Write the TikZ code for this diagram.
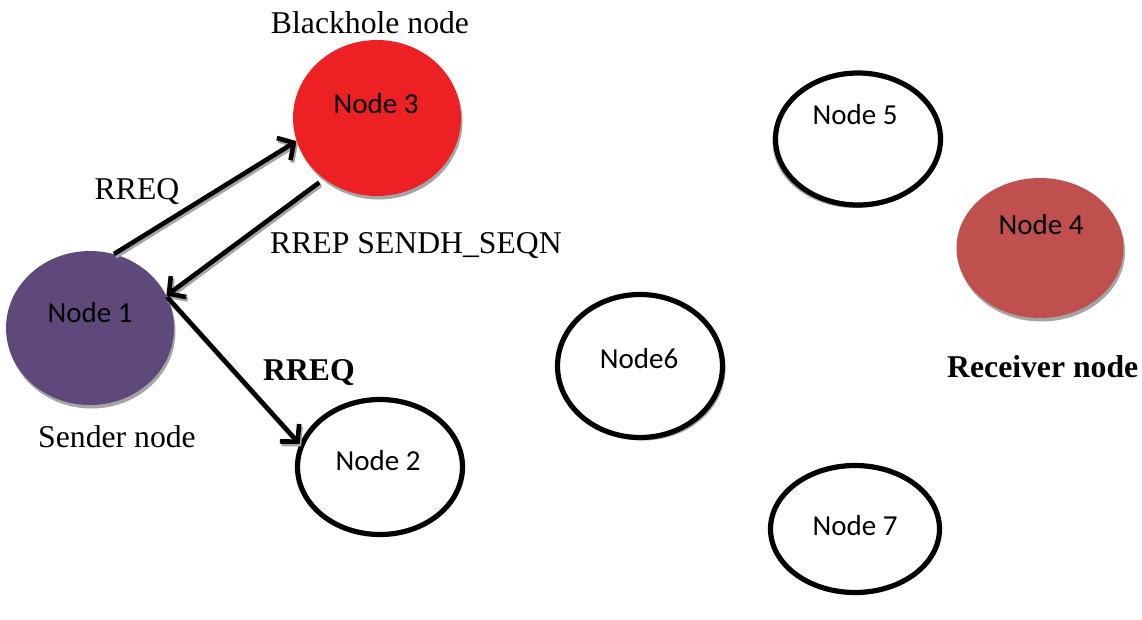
\documentclass[tikz,border=0pt]{standalone}
\usepackage{fontspec}
\setmainfont{Liberation Serif}
\newfontfamily\nodefont{Carlito}
\usetikzlibrary{shapes.geometric,arrows.meta,shadows}
\definecolor{senderpurple}{RGB}{95,73,122}
\definecolor{holered}{RGB}{237,32,36}
\definecolor{receiverred}{RGB}{192,80,77}
\definecolor{shadowgray}{RGB}{165,165,165}
\begin{document}
\begin{tikzpicture}[x=1pt,y=-1pt,
  host/.style={ellipse, inner sep=0pt},
  filledhost/.style={host, drop shadow={shadow xshift=1.5pt, shadow yshift=-3.5pt, fill=shadowgray, opacity=1}},
  plainhost/.style={host, draw=black, line width=5.2pt, fill=white},
  hostname/.style={anchor=base, inner sep=0pt, font=\nodefont\fontsize{29}{34}\selectfont},
  caption/.style={inner sep=0pt, font=\fontsize{31.7}{38}\selectfont},
  msg/.style={line width=4.6pt, -{Straight Barb[length=12pt,width=26pt]}},
  msgshadow/.style={msg, draw=shadowgray, transform canvas={shift={(1.5pt,-2.5pt)}}}
]
\useasboundingbox (0,0) rectangle (1142,619);

% hosts of the network
\node[filledhost, fill=senderpurple, minimum width=168pt, minimum height=154pt] (n1) at (90,328) {};
\node[filledhost, fill=holered, minimum width=168pt, minimum height=156pt] (n3) at (377,118) {};
\node[filledhost, fill=receiverred, minimum width=167pt, minimum height=140pt] (n4) at (1040,248) {};
\node[plainhost, minimum width=165pt, minimum height=132pt,
      drop shadow={shadow xshift=-3pt, shadow yshift=-3pt, fill=shadowgray, opacity=1}] (n5) at (858,139) {};
\node[plainhost, minimum width=165pt, minimum height=143pt,
      drop shadow={shadow xshift=3pt, shadow yshift=-3pt, fill=shadowgray, opacity=1}] (n6) at (640,366) {};
\node[plainhost, minimum width=165pt, minimum height=135pt] (n2) at (380,467) {};
\node[plainhost, minimum width=169pt, minimum height=127pt] (n7) at (855,529) {};

% host names
\node[hostname] (t1) at (90,322) {Node 1};
\node[hostname] (t3) at (376,113) {Node 3};
\node[hostname] (t4) at (1041,234) {Node 4};
\node[hostname] (t5) at (855,124) {Node 5};
\node[hostname] (t6) at (639,368) {Node6};
\node[hostname] (t2) at (378,470) {Node 2};
\node[hostname] (t7) at (855,535) {Node 7};

% role captions
\node[caption, anchor=base] (cb) at (370,33) {Blackhole node};
\node[caption, anchor=base west] (cs) at (38,447) {Sender node};
\node[caption, anchor=base west, font=\bfseries\fontsize{31.7}{38}\selectfont] (cr) at (947,377) {Receiver node};

% route messages
\draw[msgshadow] (n1.72) -- (n3.196);
\draw[msg] (n1.72) -- (n3.196);
\draw[msgshadow, shorten <=6pt] (n3.229) -- (n1.23);
\draw[msg, shorten <=6pt] (n3.229) -- (n1.23);
\draw[msgshadow] (n1.22) -- (n2.164);
\draw[msg] (n1.22) -- (n2.164);

% message labels
\node[caption, anchor=base] (l1) at (137,199) {RREQ};
\node[caption, anchor=base west] (l2) at (270,253) {RREP SENDH\_SEQN};
\node[caption, anchor=base west, font=\bfseries\fontsize{31.7}{38}\selectfont] (l3) at (263,380) {RREQ};
\end{tikzpicture}
\end{document}
